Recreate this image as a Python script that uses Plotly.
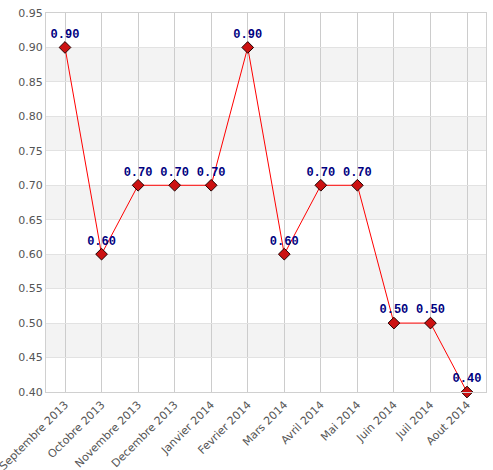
import plotly.graph_objects as go

months = ["Septembre 2013", "Octobre 2013", "Novembre 2013", "Decembre 2013",
          "Janvier 2014", "Fevrier 2014", "Mars 2014", "Avril 2014",
          "Mai 2014", "Juin 2014", "Juil 2014", "Aout 2014"]
values = [0.90, 0.60, 0.70, 0.70, 0.70, 0.90, 0.60, 0.70, 0.70, 0.50, 0.50, 0.40]
y_ticks = [0.40, 0.45, 0.50, 0.55, 0.60, 0.65, 0.70, 0.75, 0.80, 0.85, 0.90, 0.95]

x_idx = list(range(len(months)))

fig = go.Figure()
fig.add_trace(go.Scatter(
    x=x_idx, y=values, mode="lines+markers+text",
    line=dict(color="#ff0000", width=1),
    marker=dict(symbol="diamond", size=9, color="#cc1111",
                line=dict(color="#220000", width=1)),
    text=[f"{v:.2f}" for v in values], textposition="top center",
    textfont=dict(family="Liberation Mono", size=12, color="#000080", weight="bold"),
    cliponaxis=False, hoverinfo="skip",
))

shapes = []
for i in range(1, len(y_ticks) - 1, 2):
    shapes.append(dict(type="rect", xref="paper", yref="y", x0=0, x1=1,
                       y0=y_ticks[i], y1=y_ticks[i + 1],
                       fillcolor="#f3f3f3", line=dict(width=0), layer="below"))
fig.update_layout(shapes=shapes)

fig.update_layout(
    width=493, height=470,
    margin=dict(l=46, r=7, t=13, b=78),
    paper_bgcolor="white", plot_bgcolor="white",
    showlegend=False,
    font=dict(family="DejaVu Sans", size=11, color="#555555"),
    xaxis=dict(tickmode="array", tickvals=x_idx, ticktext=months,
               range=[-0.52, 11.52], tickangle=-45, automargin=False,
               ticklabeloverflow="allow", ticklabelstandoff=1,
               showgrid=True, gridcolor="#cccccc", gridwidth=1,
               zeroline=False, showline=True, linecolor="#d0d0d0", mirror=True,
               ticks="", tickfont=dict(size=11, color="#555555")),
    yaxis=dict(tickmode="array", tickvals=y_ticks,
               ticktext=[f"{t:.2f}" for t in y_ticks],
               range=[0.40, 0.95], automargin=False,
               showgrid=True, gridcolor="#e2e2e2", gridwidth=1,
               zeroline=False, showline=True, linecolor="#d0d0d0", mirror=True,
               ticks="", tickfont=dict(size=11, color="#555555")),
)

fig.write_html("out.html", config={"displayModeBar": False},
               post_script="document.body.style.margin='0';document.body.style.overflow='hidden';")
